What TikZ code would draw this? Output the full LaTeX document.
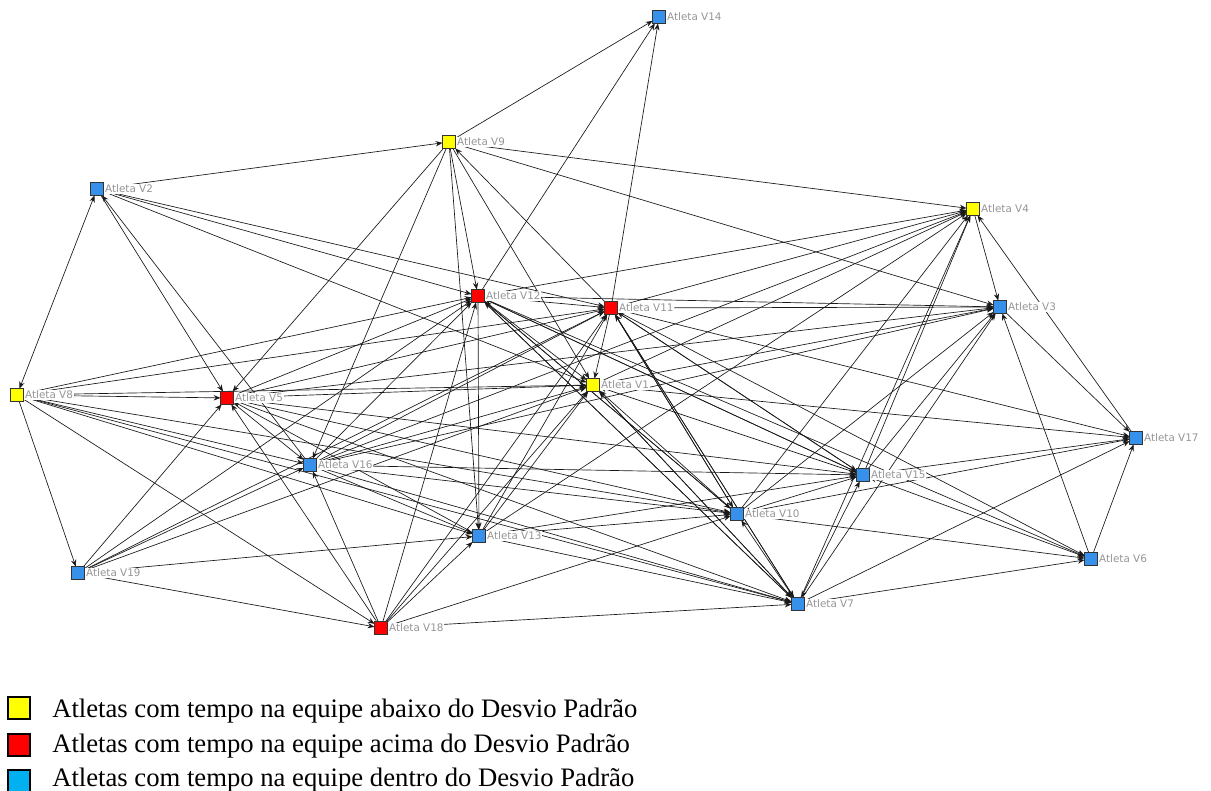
\documentclass[tikz,border=0pt]{standalone}
\usepackage{fontspec}
\setmainfont{Liberation Serif}
\newfontfamily\lblfont{DejaVu Sans}
\usetikzlibrary{arrows.meta}
\pgfdeclarelayer{bg}
\pgfsetlayers{bg,main}
\definecolor{nyel}{RGB}{255,255,0}
\definecolor{nred}{RGB}{255,0,0}
\definecolor{nblue}{RGB}{55,145,235}
\definecolor{lblue}{RGB}{0,176,240}
\definecolor{lblgray}{RGB}{150,150,150}
\begin{document}
\begin{tikzpicture}[x=0.75pt,y=-0.75pt,
  ath/.style={draw=black!80, line width=0.45pt, minimum size=9.6pt, inner sep=0pt, outer sep=0pt},
  athy/.style={ath, fill=nyel},
  athr/.style={ath, fill=nred},
  athb/.style={ath, fill=nblue},
  lbl/.style={font=\lblfont\fontsize{7.8}{8}\selectfont, text=lblgray, fill=white, inner sep=0.5pt, anchor=west},
  tie/.style={line width=0.5pt, black!90, -{Stealth[length=5.2pt,width=4pt]}},
  tiebi/.style={line width=0.5pt, black!90, {Stealth[length=5.2pt,width=4pt]}-{Stealth[length=5.2pt,width=4pt]}},
  legbox/.style={draw=black, line width=1.3pt, minimum size=16.5pt, inner sep=0pt},
  legtxt/.style={font=\fontsize{20}{23}\selectfont, anchor=west, inner sep=0pt}
]
\useasboundingbox (0,0) rectangle (1211,791);

% athletes
\node[athb] (v14) at (659,17) {};
\node[athy] (v9)  at (449,142) {};
\node[athb] (v2)  at (97,189) {};
\node[athy] (v4)  at (973,209) {};
\node[athr] (v12) at (478,296) {};
\node[athr] (v11) at (611,308) {};
\node[athb] (v3)  at (1000,307) {};
\node[athy] (v1)  at (593,385) {};
\node[athy] (v8)  at (17,395) {};
\node[athr] (v5)  at (227,398) {};
\node[athb] (v17) at (1136,438) {};
\node[athb] (v16) at (310,465) {};
\node[athb] (v15) at (863,475) {};
\node[athb] (v10) at (737,514) {};
\node[athb] (v13) at (479,536) {};
\node[athb] (v6)  at (1091,559) {};
\node[athb] (v19) at (78,573) {};
\node[athb] (v7)  at (798,604) {};
\node[athr] (v18) at (381,628) {};

% labels
\foreach \n/\t in {v14/V14,v9/V9,v2/V2,v4/V4,v12/V12,v11/V11,v3/V3,v1/V1,v8/V8,v5/V5,v17/V17,v16/V16,v15/V15,v10/V10,v13/V13,v6/V6,v19/V19,v7/V7,v18/V18}
  \node[lbl] (l\n) at ([xshift=0.6pt]\n.east) {Atleta \t};

% ties
\begin{pgfonlayer}{bg}
\foreach \a/\b in {v9/v14, v12/v14, v11/v14,
  v2/v9, v9/v4, v9/v3, v9/v12, v9/v13, v11/v9, v9/v1, v9/v5, v9/v16,
  v2/v5, v16/v2, v2/v11, v2/v12, v2/v1,
  v8/v19, v8/v5, v8/v1, v8/v12, v8/v11, v8/v16, v8/v10, v8/v13, v8/v7, v8/v18,
  v19/v5, v19/v16, v19/v12, v19/v11, v19/v1, v19/v13, v19/v18,
  v5/v1, v5/v12, v5/v11, v5/v16, v13/v5, v5/v10, v5/v15, v5/v7, v18/v5, v5/v3,
  v16/v12, v16/v11, v16/v1, v16/v4, v16/v3, v16/v15, v16/v10, v16/v13, v16/v7, v18/v16,
  v12/v11, v12/v1, v12/v3, v12/v4, v12/v13, v10/v12, v15/v12, v7/v12, v18/v12,
  v11/v4, v11/v1, v10/v11, v7/v11, v15/v11, v11/v17, v11/v6, v13/v11, v18/v11,
  v1/v4, v1/v3, v1/v17, v15/v1, v10/v1, v7/v1, v13/v1, v18/v1,
  v4/v3, v17/v4, v15/v4, v7/v4, v10/v4, v13/v4,
  v6/v3, v3/v17, v15/v3, v10/v3, v7/v3,
  v10/v17, v7/v17, v6/v17,
  v10/v6, v7/v6, v12/v6,
  v13/v15, v12/v15, v11/v15,
  v13/v10, v18/v10, v11/v10, v12/v10,
  v13/v7, v18/v7, v12/v7, v11/v7, v1/v7,
  v18/v13}
  \draw[tie] (\a) -- (\b);
\foreach \a/\b in {v2/v8, v11/v3, v15/v17, v15/v6, v10/v15, v10/v7, v7/v15}
  \draw[tiebi] (\a) -- (\b);
\end{pgfonlayer}

% legend
\node[legbox, fill=nyel]  (ky) at (19,708) {};
\node[legbox, fill=nred]  (kr) at (19,745) {};
\node[legbox, fill=lblue] (kb) at (19,781) {};
\node[legtxt] (ty) at (52,711) {Atletas com tempo na equipe abaixo do Desvio Padrão};
\node[legtxt] (tr) at (52,746) {Atletas com tempo na equipe acima do Desvio Padrão};
\node[legtxt] (tb) at (52,780) {Atletas com tempo na equipe dentro do Desvio Padrão};
\end{tikzpicture}
\end{document}
